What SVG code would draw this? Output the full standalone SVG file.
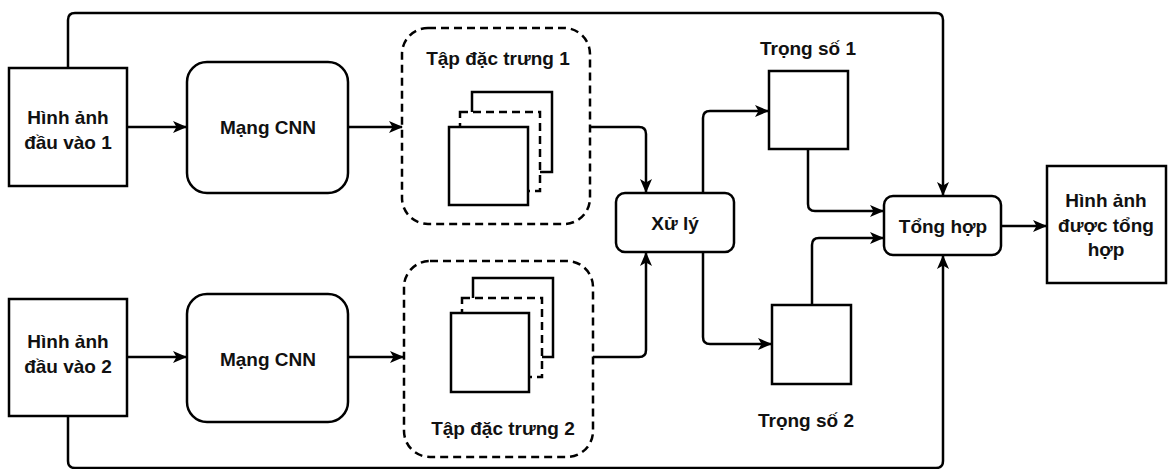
<svg xmlns="http://www.w3.org/2000/svg" width="1168" height="469" viewBox="0 0 1168 469">
  <style>
    .box { fill: #ffffff; stroke: #000000; stroke-width: 2.5; }
    .dash { fill: none; stroke: #000000; stroke-width: 2.5; stroke-dasharray: 8 5; }
    .sheet-dash { fill: #ffffff; stroke: #000000; stroke-width: 2.5; stroke-dasharray: 8 5; }
    .wire { fill: none; stroke: #000000; stroke-width: 2.5; stroke-linejoin: round; }
    .lbl { font-family: "Liberation Sans", Arial, sans-serif; font-weight: bold; font-size: 19px; fill: #111111; text-anchor: middle; dominant-baseline: central; }
  </style>
  <defs>
    <marker id="arrow" viewBox="0 0 14 12" refX="13" refY="6" markerWidth="14" markerHeight="12" markerUnits="userSpaceOnUse" orient="auto">
      <path d="M0,0 L14,6 L0,12 L3.5,6 Z" fill="#000000"/>
    </marker>
  </defs>

  <!-- connectors -->
  <g id="connectors" class="wire">
    <!-- bypass of input 1 over the top into the merge block -->
    <path d="M68,68 V20 Q68,13 75,13 H936 Q943,13 943,20 V195" marker-end="url(#arrow)"/>
    <!-- bypass of input 2 along the bottom into the merge block -->
    <path d="M68,416 V461 Q68,468 75,468 H936 Q943,468 943,461 V256" marker-end="url(#arrow)"/>
    <!-- inputs to CNNs -->
    <path d="M127,127 H186" marker-end="url(#arrow)"/>
    <path d="M127,357 H186" marker-end="url(#arrow)"/>
    <!-- CNNs to feature sets -->
    <path d="M348,127 H402" marker-end="url(#arrow)"/>
    <path d="M348,357 H403" marker-end="url(#arrow)"/>
    <!-- feature sets to processing -->
    <path d="M590,127 H639 Q646,127 646,134 V192" marker-end="url(#arrow)"/>
    <path d="M593,357 H639 Q646,357 646,350 V253" marker-end="url(#arrow)"/>
    <!-- processing to weights -->
    <path d="M703,193 V118 Q703,111 710,111 H768" marker-end="url(#arrow)"/>
    <path d="M703,252 V337 Q703,344 710,344 H771" marker-end="url(#arrow)"/>
    <!-- weights to merge -->
    <path d="M808,149 V204 Q808,211 815,211 H883" marker-end="url(#arrow)"/>
    <path d="M812,305 V245 Q812,238 819,238 H883" marker-end="url(#arrow)"/>
    <!-- merge to output -->
    <path d="M1001,226 H1046" marker-end="url(#arrow)"/>
  </g>

  <!-- input image 1 -->
  <g id="input1">
    <rect class="box" x="9" y="68" width="118" height="118"/>
    <text class="lbl" x="68" y="117">Hình ảnh</text>
    <text class="lbl" x="68" y="142">đầu vào 1</text>
  </g>

  <!-- input image 2 -->
  <g id="input2">
    <rect class="box" x="9" y="299" width="118" height="117"/>
    <text class="lbl" x="68" y="341">Hình ảnh</text>
    <text class="lbl" x="68" y="366">đầu vào 2</text>
  </g>

  <!-- CNN 1 -->
  <g id="cnn1">
    <rect class="box" x="187" y="62" width="161" height="131" rx="20" ry="20"/>
    <text class="lbl" x="268" y="127">Mạng CNN</text>
  </g>

  <!-- CNN 2 -->
  <g id="cnn2">
    <rect class="box" x="187" y="294" width="161" height="128" rx="20" ry="20"/>
    <text class="lbl" x="268" y="359">Mạng CNN</text>
  </g>

  <!-- feature set 1 -->
  <g id="features1">
    <rect class="dash" x="402" y="28" width="188" height="196" rx="26" ry="26"/>
    <text class="lbl" x="498" y="58">Tập đặc trưng 1</text>
    <rect class="box" x="472" y="92" width="80" height="80"/>
    <rect class="sheet-dash" x="460" y="112" width="80" height="79"/>
    <rect class="box" x="449" y="127" width="79" height="78"/>
  </g>

  <!-- feature set 2 -->
  <g id="features2">
    <rect class="dash" x="404" y="261" width="189" height="196" rx="26" ry="26"/>
    <text class="lbl" x="503" y="428">Tập đặc trưng 2</text>
    <rect class="box" x="473" y="278" width="80" height="79"/>
    <rect class="sheet-dash" x="462" y="298" width="80" height="79"/>
    <rect class="box" x="451" y="313" width="78" height="79"/>
  </g>

  <!-- processing -->
  <g id="process">
    <rect class="box" x="616" y="193" width="118" height="59" rx="9" ry="9"/>
    <text class="lbl" x="675" y="223">Xử lý</text>
  </g>

  <!-- weight 1 -->
  <g id="weight1">
    <text class="lbl" x="808" y="48">Trọng số 1</text>
    <rect class="box" x="769" y="71" width="79" height="78"/>
  </g>

  <!-- weight 2 -->
  <g id="weight2">
    <rect class="box" x="772" y="305" width="79" height="79"/>
    <text class="lbl" x="806" y="420">Trọng số 2</text>
  </g>

  <!-- merge -->
  <g id="merge">
    <rect class="box" x="884" y="196" width="117" height="59" rx="9" ry="9"/>
    <text class="lbl" x="943" y="226">Tổng hợp</text>
  </g>

  <!-- output image -->
  <g id="output">
    <rect class="box" x="1047" y="166" width="119" height="117"/>
    <text class="lbl" x="1106" y="200">Hình ảnh</text>
    <text class="lbl" x="1106" y="225">được tổng</text>
    <text class="lbl" x="1106" y="249">hợp</text>
  </g>
</svg>
